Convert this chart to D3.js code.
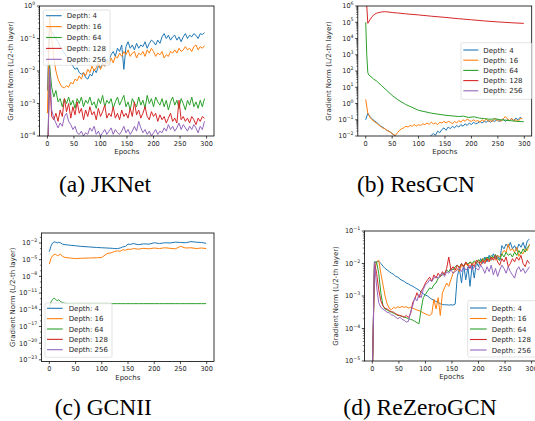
<!DOCTYPE html>
<html>
<head>
<meta charset="utf-8">
<title>Gradient norm per depth</title>
<script src="https://d3js.org/d3.v7.min.js"></script>
<style>
body { margin: 0; background: #fff; }
svg text { font-family: "DejaVu Sans", sans-serif; fill: #262626; }
svg text.caption { font-family: "Liberation Serif", "Times New Roman", serif; font-size: 23.5px; fill: #000; }
</style>
</head>
<body>
<svg id="fig" width="535" height="421"></svg>
<script>

// all series values are log10 of the gradient norm
const depths = ['Depth: 4', 'Depth: 16', 'Depth: 64', 'Depth: 128', 'Depth: 256'];
const colors = ['#1f77b4', '#ff7f0e', '#2ca02c', '#d62728', '#9467bd'];
const xTicks = [0, 50, 100, 150, 200, 250, 300];

// sampled every 4 epochs
const epochs4 = d3.range(0, 300, 4);

// (a) JKNet
const jk4 = [-2.6, -0.6, -0.8, -0.9, -1.0, -1.1, -1.25, -1.35, -1.45, -1.55,
  -1.65, -1.75, -1.85, -1.95, -1.9, -2.05, -2.1, -2.05, -2.2, -2.25,
  -2.1, -2.15, -1.95, -2.05, -1.85, -1.9, -1.75, -1.85, -1.65, -1.7,
  -1.5, -1.4, -1.55, -1.3, -1.4, -1.2, -1.95, -1.25, -1.1, -1.3,
  -1.2, -1.35, -1.15, -1.3, -1.2, -1.25, -1.1, -1.3, -1.15, -1.05,
  -1.1, -1.2, -1.05, -1.15, -0.95, -0.85, -1.0, -0.9, -1.05, -0.95,
  -0.9, -1.05, -0.95, -1.1, -0.95, -0.85, -1.0, -0.9, -0.95, -0.85,
  -0.9, -1.0, -0.85, -0.88, -0.82];
const jk16 = [-3.3, -0.3, -1.0, -1.6, -2.0, -2.25, -2.4, -2.5, -2.52, -2.45,
  -2.5, -2.35, -2.4, -2.25, -2.3, -2.15, -2.25, -2.05, -2.15, -1.95,
  -2.05, -1.85, -2.0, -1.9, -1.75, -1.95, -1.8, -1.85, -1.7, -1.8,
  -1.6, -1.75, -1.55, -1.6, -1.45, -1.55, -1.4, -1.5, -1.35, -1.55,
  -1.45, -1.4, -1.6, -1.45, -1.5, -1.4, -1.55, -1.35, -1.45, -1.3,
  -1.4, -1.55, -1.45, -1.5, -1.4, -1.6, -1.5, -1.55, -1.4, -1.45,
  -1.35, -1.45, -1.3, -1.4, -1.35, -1.25, -1.35, -1.3, -1.4, -1.25,
  -1.2, -1.35, -1.25, -1.3, -1.22];
const jk64 = [-5, -1.8, -2.5, -2.8, -2.6, -2.95, -2.85, -3.1, -2.85, -3.0,
  -2.8, -3.05, -2.9, -3.15, -2.85, -3.0, -2.8, -3.1, -2.9, -3.0,
  -2.8, -3.05, -2.95, -3.15, -2.85, -3.0, -2.75, -3.1, -2.9, -3.0,
  -2.85, -3.15, -2.95, -2.8, -3.05, -2.9, -2.75, -3.1, -2.95, -3.2,
  -2.85, -3.0, -3.1, -2.8, -3.05, -2.9, -3.15, -2.75, -3.0, -2.85,
  -3.1, -2.8, -2.95, -3.05, -2.85, -3.1, -2.9, -3.2, -2.95, -2.8,
  -3.05, -2.9, -3.15, -2.85, -3.0, -3.2, -2.9, -3.05, -2.8, -3.1,
  -2.95, -3.15, -2.9, -3.1, -2.85];
const jk128 = [-5, -2.2, -3.4, -3.5, -3.3, -3.55, -3.2, -3.4, -2.85, -3.25,
  -3.0, -3.45, -3.1, -3.35, -2.95, -3.3, -3.15, -3.5, -3.2, -3.4,
  -3.1, -3.35, -3.25, -3.5, -3.15, -3.4, -3.25, -3.05, -3.45, -3.3,
  -3.4, -3.1, -3.45, -3.3, -3.5, -3.2, -3.4, -3.3, -3.45, -3.15,
  -3.4, -2.95, -3.35, -3.2, -3.45, -3.3, -3.1, -3.4, -3.5, -3.25,
  -3.4, -3.3, -3.55, -3.35, -3.5, -3.4, -3.6, -3.45, -3.3, -3.55,
  -3.45, -3.6, -2.9, -3.5, -3.4, -3.55, -3.45, -3.6, -3.4, -3.5,
  -3.65, -3.45, -3.55, -3.4, -3.45];
const jk256 = [-5, -1.9, -3.2, -3.45, -3.6, -3.75, -3.6, -3.7, -3.4, -3.3,
  -3.55, -3.65, -3.8, -3.7, -3.9, -3.95, -3.85, -4.0, -3.9, -3.95,
  -3.75, -3.85, -3.7, -3.95, -3.85, -4.0, -3.9, -3.8, -3.95, -3.85,
  -3.75, -3.95, -3.8, -3.9, -3.95, -3.85, -3.7, -3.9, -3.8, -3.95,
  -3.85, -3.7, -3.85, -3.55, -3.75, -3.9, -3.8, -3.95, -3.85, -4.0,
  -3.9, -3.8, -3.95, -3.85, -3.9, -3.75, -3.85, -3.65, -3.8, -3.7,
  -3.85, -3.75, -3.6, -3.8, -3.65, -3.75, -3.85, -3.7, -3.8, -3.65,
  -3.75, -3.9, -3.7, -3.8, -3.55];

// (b) ResGCN
const res4 = [-1.0, -0.6, -0.8, -0.95, -1.05, -1.15, -1.25, -1.4, -1.45, -1.55,
  -1.65, -1.7, -1.8, -1.9, -2.0, -2.1, -2.2, -2.3, -2.35, -2.4,
  -2.45, -2.4, -2.45, -2.4, -2.35, -2.4, -2.3, -2.35, -2.25, -2.2,
  -2.1, -1.95, -1.85, -1.95, -1.7, -1.8, -1.6, -1.5, -1.65, -1.45,
  -1.55, -1.4, -1.5, -1.35, -1.45, -1.3, -1.4, -1.25, -1.35, -1.2,
  -1.3, -1.15, -1.25, -1.2, -1.1, -1.2, -1.1, -1.15, -1.05, -1.15,
  -1.05, -1.1, -1.0, -1.1, -1.05, -0.95, -1.1, -1.0, -1.05, -0.95,
  -1.05, -0.9, -1.0, -0.85, -0.95];
const res16 = [0.25, -0.6, -0.85, -1.0, -1.1, -1.2, -1.3, -1.4, -1.5, -1.55,
  -1.65, -1.72, -1.8, -1.9, -1.97, -1.8, -1.65, -1.55, -1.5, -1.4,
  -1.45, -1.35, -1.4, -1.3, -1.38, -1.3, -1.35, -1.25, -1.3, -1.2,
  -1.28, -1.15, -1.25, -1.2, -1.3, -1.15, -1.2, -1.1, -1.2, -1.1,
  -1.15, -1.25, -1.1, -1.2, -1.05, -1.15, -1.0, -1.1, -0.95, -1.05,
  -1.1, -1.0, -1.1, -1.05, -1.15, -1.0, -1.1, -0.95, -1.1, -1.05,
  -1.1, -0.9, -1.05, -1.0, -1.1, -0.95, -0.8, -0.95, -1.05, -0.9,
  -1.05, -1.0, -1.1, -0.95, -0.9];
const res64Epochs = [0, 2, 4, 6, 10, 15, 20, 30, 40, 50, 60, 75, 100, 125, 150, 175,
  185, 195, 205, 215, 225, 235, 245, 255, 265, 275, 285, 299];
const res64 = [5.0, 3.0, 1.9, 1.75, 1.65, 1.5, 1.4, 1.1, 0.8, 0.5, 0.25, -0.05, -0.42, -0.6, -0.72, -0.8,
  -0.78, -0.86, -0.82, -0.9, -0.93, -0.97, -0.94, -1.0, -1.03, -1.06, -1.1, -1.12];
const res128Epochs = [0, 2, 4, 8, 12, 16, 20, 25, 30, 35, 40, 50, 60, 75, 100, 125, 150,
  175, 200, 225, 250, 275, 299];
const res128 = [6.8, 6.0, 4.93, 5.15, 5.35, 5.47, 5.55, 5.6, 5.63, 5.65, 5.64, 5.6, 5.57, 5.52, 5.45, 5.37, 5.3,
  5.22, 5.15, 5.08, 5.02, 4.97, 4.93];

// (c) GCNII
const gcnEpochs = [0, 3, 6, 9, 12, 15, 18, 21, 25, 30, 40, 50, 60, 75, 90, 100, 110, 120, 125, 130,
  135, 140, 145, 150, 155, 160, 170, 180, 190, 200, 210, 220, 230, 240, 250, 260, 270, 280, 290, 299];
const gcn4 = [-3.55, -2.6, -2.0, -1.8, -1.85, -2.0, -1.85, -1.95, -2.2, -2.3,
  -2.4, -2.5, -2.6, -2.7, -2.8, -2.85, -2.9, -2.95, -3.0, -3.0,
  -2.9, -2.7, -2.6, -2.2, -2.25, -2.1, -2.3, -2.15, -2.2, -1.95,
  -2.1, -1.95, -2.0, -1.85, -1.9, -1.95, -1.75, -1.85, -1.9, -2.05];
const gcn16 = [-5.8, -4.8, -4.3, -4.1, -4.0, -4.3, -4.2, -4.0, -4.4, -4.6,
  -4.7, -4.8, -4.75, -4.7, -4.65, -4.6, -3.9, -3.7, -3.5, -3.4,
  -3.5, -3.2, -3.3, -3.1, -3.15, -3.0, -3.1, -2.95, -3.05, -2.9,
  -3.0, -2.85, -2.95, -3.05, -2.6, -2.9, -2.85, -3.0, -2.9, -3.0];
const gcn64 = [-13.6, -12.6, -12.2, -11.9, -12.1, -12.4, -12.2, -12.5, -12.7, -12.85,
  -12.9, -12.9, -12.9, -12.9, -12.9, -12.9, -12.9, -12.9, -12.9, -12.9,
  -12.9, -12.9, -12.9, -12.9, -12.9, -12.9, -12.9, -12.9, -12.9, -12.9,
  -12.9, -12.9, -12.9, -12.9, -12.9, -12.9, -12.9, -12.9, -12.9, -12.9];

// (d) ReZeroGCN
const rz4 = [-5.5, -2.0, -1.95, -1.93, -2.0, -2.08, -2.15, -2.2, -2.25, -2.3,
  -2.33, -2.4, -2.42, -2.48, -2.52, -2.55, -2.6, -2.63, -2.67, -2.7,
  -2.74, -2.78, -2.82, -2.88, -2.93, -2.97, -3.0, -3.05, -3.1, -3.13,
  -3.17, -3.2, -3.24, -3.26, -3.27, -3.27, -3.28, -3.27, -3.28, -3.25,
  -2.4, -2.15, -2.6, -2.05, -2.5, -2.1, -2.7, -2.05, -2.45, -1.95,
  -2.1, -1.85, -2.0, -1.8, -1.95, -1.75, -1.9, -1.7, -1.85, -1.75,
  -1.9, -1.45, -1.55, -1.4, -1.5, -1.35, -1.55, -1.45, -1.6, -1.4,
  -1.5, -1.35, -1.55, -1.3, -1.25];
const rz16 = [-5.5, -2.3, -1.95, -1.9, -2.3, -2.65, -3.0, -3.25, -3.38, -3.42,
  -3.35, -3.38, -3.33, -3.36, -3.32, -3.35, -3.33, -3.37, -3.35, -3.38,
  -3.4, -3.43, -3.45, -3.48, -3.52, -3.55, -3.58, -3.6, -3.55, -3.1,
  -3.4, -3.05, -3.6, -2.9, -2.75, -2.6, -2.7, -2.5, -2.3, -2.2,
  -2.15, -2.25, -2.05, -2.1, -2.0, -2.08, -1.95, -2.05, -1.95, -2.0,
  -1.9, -1.98, -1.85, -1.95, -1.82, -1.9, -1.88, -1.8, -1.9, -1.75,
  -1.8, -1.7, -1.6, -1.65, -1.4, -1.6, -1.55, -1.65, -1.5, -1.78,
  -1.65, -1.7, -1.55, -1.6, -1.4];
const rz64 = [-5.5, -1.95, -1.95, -2.3, -2.9, -3.3, -3.4, -3.43, -3.47, -3.5,
  -3.53, -3.56, -3.6, -3.6, -3.63, -3.65, -3.67, -3.7, -3.72, -3.74,
  -3.78, -3.82, -3.85, -3.4, -3.05, -2.95, -2.85, -2.75, -2.78, -2.65,
  -2.6, -2.45, -2.4, -2.35, -2.3, -2.2, -2.25, -2.15, -2.2, -2.1,
  -2.05, -2.12, -2.0, -2.08, -1.98, -2.02, -1.95, -2.0, -1.92, -1.98,
  -1.88, -1.95, -1.85, -1.9, -1.8, -1.88, -1.75, -1.82, -1.72, -1.85,
  -1.9, -1.7, -1.8, -1.65, -1.75, -1.7, -1.8, -1.65, -1.75, -1.6,
  -1.7, -1.55, -1.65, -1.5, -1.45];
const rz128 = [-5.5, -1.95, -2.3, -2.8, -3.15, -3.3, -3.38, -3.4, -3.45, -3.48,
  -3.5, -3.55, -3.58, -3.6, -3.62, -3.65, -3.6, -3.66, -3.55, -3.2,
  -3.1, -2.9, -3.05, -2.85, -2.75, -2.6, -2.5, -2.42, -2.55, -2.35,
  -2.45, -2.3, -2.4, -2.25, -2.35, -2.15, -1.8, -2.2, -2.1, -2.2,
  -2.05, -2.15, -2.0, -2.1, -1.95, -2.05, -2.15, -2.0, -2.1, -1.9,
  -1.95, -2.05, -1.9, -2.0, -1.85, -1.95, -1.8, -1.9, -1.75, -1.95,
  -2.05, -1.85, -1.95, -1.8, -2.1, -2.0, -1.85, -1.95, -1.8, -1.9,
  -1.75, -2.0, -2.1, -1.9, -2.0];
const rz256 = [-5.5, -1.95, -2.7, -3.2, -3.35, -3.4, -3.45, -3.5, -3.52, -3.58,
  -3.6, -3.65, -3.7, -3.65, -3.72, -3.75, -3.8, -3.78, -3.5, -3.3,
  -3.05, -3.15, -2.95, -3.05, -2.8, -2.65, -2.6, -2.5, -2.55, -2.45,
  -2.4, -2.45, -2.35, -2.3, -2.4, -2.25, -2.3, -2.2, -2.3, -2.25,
  -2.2, -2.15, -2.25, -2.1, -2.2, -2.15, -2.05, -2.2, -2.1, -2.15,
  -2.2, -2.05, -2.15, -2.3, -2.1, -2.25, -2.05, -2.35, -2.15, -2.4,
  -2.2, -2.05, -2.15, -2.3, -2.1, -2.25, -2.35, -2.45, -2.2, -2.1,
  -2.25, -2.15, -2.3, -2.2, -2.1];

const panels = [
  { caption: '(a) JKNet', capX: 105, capY: 192,
    left: 39.5, right: 214, top: 6, bottom: 136, yExp: [-4, 0], yTicks: [0, -1, -2, -3, -4], minor: true,
    series: [[epochs4, jk4], [epochs4, jk16], [epochs4, jk64], [epochs4, jk128], [epochs4, jk256]],
    legend: { x: 43.3, y: 10, w: 66.7, h: 55.3, row0: 15.7, step: 10.9, h0: 46, h1: 61.7, tx: 66.7 } },
  { caption: '(b) ResGCN', capX: 416, capY: 192,
    left: 357.8, right: 531.7, top: 6, bottom: 136, yExp: [-2, 6], yTicks: d3.range(-2, 7), minor: true,
    series: [[epochs4, res4], [epochs4, res16], [res64Epochs, res64], [res128Epochs, res128], null],
    legend: { x: 461, y: 42.7, w: 70.7, h: 56.6, row0: 50, step: 10.2, h0: 463.3, h1: 478.3, tx: 483.3 } },
  { caption: '(c) GCNII', capX: 103.3, capY: 415,
    left: 41.5, right: 214, top: 233, bottom: 361.5, yExp: [-23.3, -0.2], yTicks: [-2, -5, -8, -11, -14, -17, -20, -23], minor: false,
    series: [[gcnEpochs, gcn4], [gcnEpochs, gcn16], [gcnEpochs, gcn64], null, null],
    legend: { x: 45, y: 303, w: 67, h: 54.3, row0: 308.3, step: 10.35, h0: 47, h1: 62.7, tx: 68.7 } },
  { caption: '(d) ReZeroGCN', capX: 420, capY: 415,
    left: 364.4, right: 539, top: 231, bottom: 361, yExp: [-5, -1], yTicks: [-1, -2, -3, -4, -5], minor: true,
    series: [[epochs4, rz4], [epochs4, rz16], [epochs4, rz64], [epochs4, rz128], [epochs4, rz256]],
    legend: { x: 467.7, y: 300.7, w: 70, h: 56.3, row0: 308, step: 10.5, h0: 470, h1: 486.7, tx: 491.7 } }
];

const svg = d3.select('#fig');

function drawPanel(p, k) {
  const g = svg.append('g');
  const x = d3.scaleLinear().domain([-14.95, 313.95]).range([p.left, p.right]);
  const y = d3.scaleLog().domain([Math.pow(10, p.yExp[0]), Math.pow(10, p.yExp[1])]).range([p.bottom, p.top]);

  svg.append('clipPath').attr('id', 'clip' + k)
    .append('rect')
    .attr('x', p.left).attr('y', p.top)
    .attr('width', p.right - p.left).attr('height', p.bottom - p.top);

  const line = d3.line()
    .x(d => x(d[0]))
    .y(d => y(Math.pow(10, d[1])));

  const plot = g.append('g').attr('clip-path', 'url(#clip' + k + ')');
  p.series.forEach((s, i) => {
    if (!s) return;
    const pts = s[0].map((e, j) => [e, s[1][j]]);
    plot.append('path')
      .attr('d', line(pts))
      .attr('fill', 'none')
      .attr('stroke', colors[i])
      .attr('stroke-width', 1)
      .attr('stroke-linejoin', 'round');
  });

  // minor ticks on the log axis
  const minors = [];
  const lo = Math.floor(p.yExp[0]), hi = Math.ceil(p.yExp[1]);
  for (let e = lo; e <= hi; e++) {
    if (p.minor) {
      for (let m = 2; m < 10; m++) minors.push(m * Math.pow(10, e));
    } else if (!p.yTicks.includes(e)) {
      minors.push(Math.pow(10, e));
    }
  }
  g.selectAll('.minor').data(minors.filter(v => y(v) >= p.top - 0.1 && y(v) <= p.bottom + 0.1))
    .enter().append('line')
    .attr('x1', p.left - 1.6).attr('x2', p.left)
    .attr('y1', d => y(d)).attr('y2', d => y(d))
    .attr('stroke', '#000').attr('stroke-width', 0.5);

  // y major ticks
  p.yTicks.forEach(e => {
    const yy = y(Math.pow(10, e));
    g.append('line')
      .attr('x1', p.left - 2.6).attr('x2', p.left)
      .attr('y1', yy).attr('y2', yy)
      .attr('stroke', '#000').attr('stroke-width', 0.7);
    const t = g.append('text')
      .attr('x', p.left - 4.2).attr('y', yy + 2.4)
      .attr('text-anchor', 'end')
      .attr('font-size', 6.6);
    t.append('tspan').text('10');
    t.append('tspan').attr('dy', -3.4).attr('font-size', 4.7)
      .text(e < 0 ? '\u2212' + (-e) : String(e));
  });

  // x ticks
  xTicks.forEach(v => {
    g.append('line')
      .attr('x1', x(v)).attr('x2', x(v))
      .attr('y1', p.bottom).attr('y2', p.bottom + 2.6)
      .attr('stroke', '#000').attr('stroke-width', 0.7);
    g.append('text')
      .attr('x', x(v)).attr('y', p.bottom + 9.6)
      .attr('text-anchor', 'middle')
      .attr('font-size', 6.6)
      .text(v);
  });

  // frame
  g.append('rect')
    .attr('x', p.left).attr('y', p.top)
    .attr('width', p.right - p.left).attr('height', p.bottom - p.top)
    .attr('fill', 'none').attr('stroke', '#000').attr('stroke-width', 0.8);

  // axis labels
  g.append('text')
    .attr('x', (p.left + p.right) / 2).attr('y', p.bottom + 18)
    .attr('text-anchor', 'middle').attr('font-size', 7)
    .text('Epochs');
  const lx = p.left - 26.5, ly = (p.top + p.bottom) / 2;
  g.append('text')
    .attr('transform', 'translate(' + lx + ',' + ly + ') rotate(-90)')
    .attr('text-anchor', 'middle').attr('font-size', 7)
    .text('Gradient Norm (L/2-th layer)');

  // legend
  const L = p.legend;
  const lg = g.append('g');
  lg.append('rect')
    .attr('x', L.x).attr('y', L.y).attr('width', L.w).attr('height', L.h)
    .attr('rx', 1.5)
    .attr('fill', '#fff').attr('fill-opacity', 0.8)
    .attr('stroke', '#d0d0d0').attr('stroke-width', 0.6);
  depths.forEach((name, i) => {
    const ry = L.row0 + i * L.step;
    lg.append('line')
      .attr('x1', L.h0).attr('x2', L.h1).attr('y1', ry).attr('y2', ry)
      .attr('stroke', colors[i]).attr('stroke-width', 1.1);
    lg.append('text')
      .attr('x', L.tx).attr('y', ry + 2.5)
      .attr('font-size', 7)
      .text(name);
  });

  svg.append('text')
    .attr('class', 'caption')
    .attr('x', p.capX).attr('y', p.capY)
    .attr('text-anchor', 'middle')
    .style('font-family', '"Liberation Serif", "Times New Roman", serif')
    .text(p.caption);
}

panels.forEach(drawPanel);

</script>
</body>
</html>
